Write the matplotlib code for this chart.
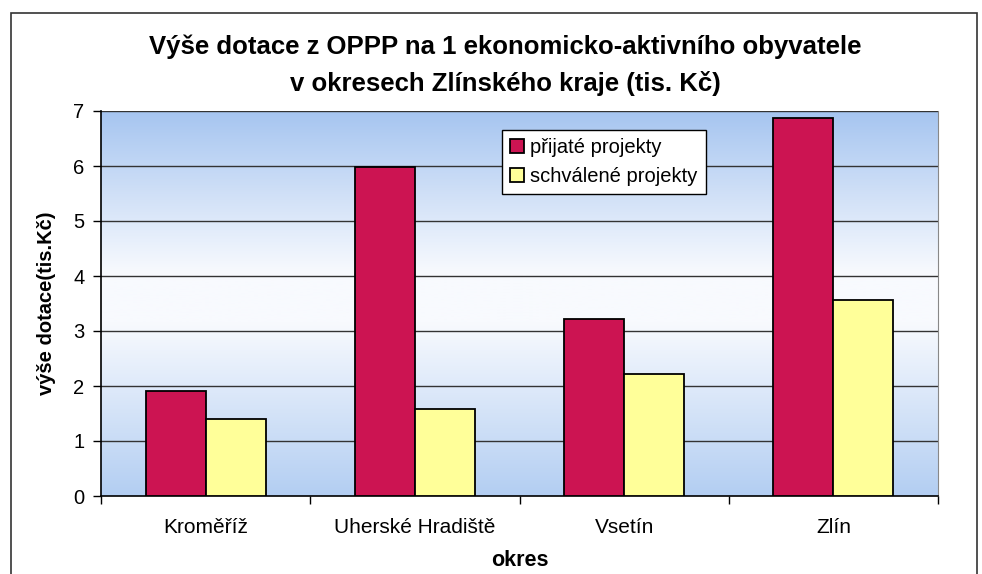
import numpy as np
import matplotlib
matplotlib.use("Agg")
import matplotlib.pyplot as plt
from matplotlib.colors import LinearSegmentedColormap
from matplotlib.patches import Rectangle

plt.rcParams['font.family'] = ['Liberation Sans', 'DejaVu Sans']

categories = ["Kroměříž", "Uherské Hradiště", "Vsetín", "Zlín"]
prijate = [1.91, 5.98, 3.22, 6.87]
schvalene = [1.40, 1.58, 2.22, 3.56]
series_names = ["přijaté projekty", "schválené projekty"]
yticks = [0, 1, 2, 3, 4, 5, 6, 7]

W, H = 982, 574
fig = plt.figure(figsize=(W/100, H/100), dpi=100)
fig.patch.set_facecolor('white')

# outer border
fig.patches.append(Rectangle((11/W, -0.01), (977-11)/W, 1 - 13/H + 0.01,
                             transform=fig.transFigure, fill=False,
                             edgecolor='#333333', linewidth=1.2))

left, right, top, bottom = 101, 938, 111, 496
ax = fig.add_axes([left/W, 1-bottom/H, (right-left)/W, (bottom-top)/H])

# background gradient (top -> bottom)
cmap = LinearSegmentedColormap.from_list(
    'bg', [(0, '#a6c5f0'), (0.42, '#f8fafe'), (0.55, '#f8fafe'), (1, '#b3cef2')])
grad = np.linspace(0, 1, 256).reshape(-1, 1)
ax.imshow(grad, cmap=cmap, aspect='auto', extent=(-0.5, len(categories)-0.5, 0, 7),
          origin='upper', zorder=0)

x = np.arange(len(categories))
w = 0.287
ax.bar(x - w/2, prijate, w, color='#cc1452', edgecolor='black', linewidth=1.3,
       label=series_names[0], zorder=3)
ax.bar(x + w/2, schvalene, w, color='#ffff99', edgecolor='black', linewidth=1.3,
       label=series_names[1], zorder=3)

ax.set_xlim(-0.5, len(categories)-0.5)
ax.set_ylim(0, 7)
ax.set_yticks(yticks)
ax.set_yticklabels([str(v) for v in yticks], fontsize=14.5)
for v in yticks[1:]:
    ax.axhline(v, color='#333333', linewidth=1.0, zorder=1)

ax.set_xticks(x)
ax.set_xticklabels(categories, fontsize=15)
ax.tick_params(axis='x', length=0, pad=16)
ax.set_xticks(np.arange(-0.5, len(categories), 1.0), minor=True)
ax.tick_params(axis='x', which='minor', length=6, direction='out', width=1)
ax.tick_params(axis='y', length=6, direction='out', width=1, pad=6)

ax.spines['top'].set_visible(False)
ax.spines['right'].set_color('#888888')
ax.spines['right'].set_linewidth(0.8)
ax.spines['left'].set_linewidth(1.2)
ax.spines['bottom'].set_linewidth(1.2)

ax.set_ylabel("výše dotace(tis.Kč)", fontsize=14.5, fontweight='bold', labelpad=12)
ax.set_xlabel("okres", fontsize=15.5, fontweight='bold', labelpad=9)

fig.text(505/W, 1-47/H, "Výše dotace z OPPP na 1 ekonomicko-aktivního obyvatele",
         ha='center', va='center', fontsize=18.5, fontweight='bold')
fig.text(505/W, 1-83/H, "v okresech Zlínského kraje (tis. Kč)",
         ha='center', va='center', fontsize=18.5, fontweight='bold')

leg = ax.legend(loc='upper left', bbox_to_anchor=((502-left)/(right-left), (bottom-130)/(bottom-top)),
                fontsize=14.5, frameon=True, fancybox=False, edgecolor='black',
                handlelength=0.7, handleheight=0.7, handletextpad=0.3,
                borderpad=0.4, labelspacing=0.5, borderaxespad=0)
leg.get_frame().set_linewidth(1.0)
leg.get_frame().set_facecolor('white')
leg.get_frame().set_alpha(1)
leg.set_zorder(5)

fig.savefig("out.png", dpi=100)
